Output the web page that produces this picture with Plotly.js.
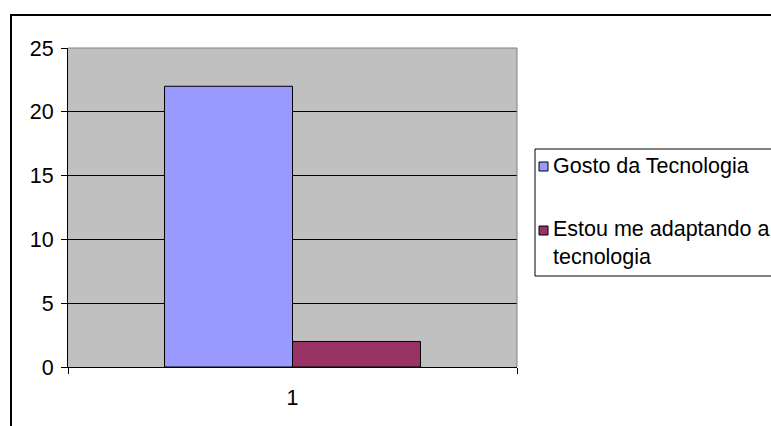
<!DOCTYPE html>
<html>
<head>
<meta charset="utf-8">
<script src="https://cdn.plot.ly/plotly-3.0.1.min.js"></script>
<style>html,body{margin:0;padding:0;background:#fff;}#chart{width:771px;height:426px;}</style>
</head>
<body>
<div id="chart"></div>
<script>
const categories = ['1'];
const seriesNames = ['Gosto da Tecnologia', 'Estou me adaptando a tecnologia'];
const legendLabels = ['Gosto da Tecnologia', 'Estou me adaptando a<br>tecnologia'];
const gostoValues = [22];
const adaptandoValues = [2];
const seriesColors = ['#9999FF', '#993366'];
const yTickVals = [0, 5, 10, 15, 20, 25];

// pixel -> paper helpers (plot area 68..517 x 48..367)
const L = 68, R = 517, T = 48, B = 367;
const px = x => (x - L) / (R - L);
const py = y => (B - y) / (B - T);

const font = {family: 'Liberation Sans, Arial, sans-serif', size: 21.5, color: '#000'};

const traces = [
  {type: 'bar', name: seriesNames[0], x: categories, y: gostoValues,
   marker: {color: seriesColors[0], line: {color: '#000', width: 1}}, hoverinfo: 'skip'},
  {type: 'bar', name: seriesNames[1], x: categories, y: adaptandoValues,
   marker: {color: seriesColors[1], line: {color: '#000', width: 1}}, hoverinfo: 'skip'}
];

const shapes = [
  // outer chart frame
  {type: 'rect', xref: 'paper', yref: 'paper', x0: px(11), x1: px(800), y0: py(450), y1: py(15),
   line: {color: '#000', width: 2}, fillcolor: 'rgba(0,0,0,0)', layer: 'below'},
  // plot area top/right border (gray)
  {type: 'line', xref: 'paper', yref: 'paper', x0: 0, x1: 1, y0: 1, y1: 1, line: {color: '#808080', width: 1}},
  {type: 'line', xref: 'paper', yref: 'paper', x0: 1, x1: 1, y0: 0, y1: 1, line: {color: '#808080', width: 1}},
  // legend box
  {type: 'rect', xref: 'paper', yref: 'paper', x0: px(535), x1: px(800), y0: py(276), y1: py(149),
   line: {color: '#000', width: 1}, fillcolor: '#fff'},
  // legend symbols
  {type: 'rect', xref: 'paper', yref: 'paper', x0: px(539), x1: px(548), y0: py(171), y1: py(162),
   line: {color: '#000', width: 1}, fillcolor: seriesColors[0]},
  {type: 'rect', xref: 'paper', yref: 'paper', x0: px(539), x1: px(548), y0: py(235), y1: py(226),
   line: {color: '#000', width: 1}, fillcolor: seriesColors[1]}
];

const annotations = [
  {xref: 'paper', yref: 'paper', x: px(551), y: py(166), xanchor: 'left', yanchor: 'middle',
   text: legendLabels[0], showarrow: false, font: font, align: 'left'},
  {xref: 'paper', yref: 'paper', x: px(551), y: py(243), xanchor: 'left', yanchor: 'middle',
   text: legendLabels[1], showarrow: false, font: font, align: 'left'}
];

const layout = {
  width: 771, height: 426,
  margin: {l: L, r: 771 - R, t: T, b: 426 - B, pad: 0},
  paper_bgcolor: '#fff', plot_bgcolor: '#C0C0C0',
  showlegend: false,
  barmode: 'group', bargap: 0.43, bargroupgap: 0,
  font: font,
  xaxis: {type: 'category', range: [-0.5, 0.5], showline: true, linecolor: '#000', linewidth: 1,
          ticks: 'outside', tickson: 'boundaries', ticklen: 6, tickcolor: '#000', showgrid: false,
          zeroline: false, automargin: false, tickfont: font, ticklabelstandoff: 11, fixedrange: true},
  yaxis: {range: [0, 25], tickvals: yTickVals, showline: true, linecolor: '#000', linewidth: 1,
          ticks: 'outside', ticklen: 6, tickcolor: '#000', showgrid: true, gridcolor: '#000', gridwidth: 1,
          zeroline: false, automargin: false, tickfont: font, ticklabelstandoff: 3, fixedrange: true},
  shapes: shapes,
  annotations: annotations
};

Plotly.newPlot('chart', traces, layout, {displayModeBar: false, staticPlot: true});
</script>
</body>
</html>
